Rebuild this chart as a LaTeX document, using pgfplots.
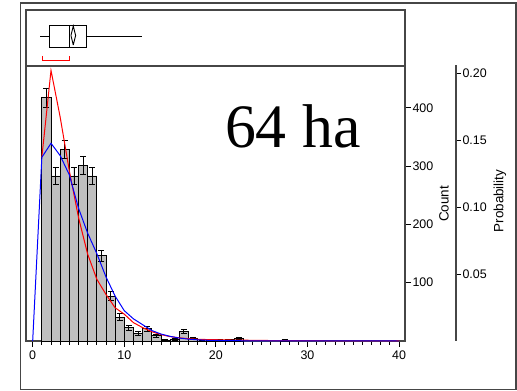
\documentclass[border=0pt]{standalone}
\usepackage{pgfplots}
\pgfplotsset{compat=1.18}
\usepackage{fontspec}
\setmainfont{Liberation Sans}
\newfontfamily\timesf{Liberation Serif}
\definecolor{framec}{RGB}{70,70,70}
\begin{document}
\begin{tikzpicture}
\path (0,0) rectangle (517bp,391bp);
\draw[line width=1.5bp, framec] (20.5bp,1.5bp) rectangle (516bp,388bp);
% top panel with box plot
\begin{axis}[at={(26bp,325bp)}, anchor=south west, scale only axis,
  width=379bp, height=56bp, xmin=-0.73, xmax=40.65, ymin=0, ymax=1,
  xtick=\empty, ytick=\empty, axis line style={line width=1.4bp, framec}, clip=false]
\addplot[black, line width=0.9pt] coordinates {(0.8,0.536) (1.81,0.536)};
\addplot[black, line width=0.9pt] coordinates {(5.82,0.536) (11.9,0.536)};
\addplot[black, line width=0.9pt] coordinates {(1.81,0.327) (5.82,0.327) (5.82,0.732) (1.81,0.732) (1.81,0.327)};
\addplot[black, line width=0.9pt] coordinates {(3.96,0.327) (3.96,0.732)};
\addplot[black, line width=0.9pt] coordinates {(4.43,0.375) (4.69,0.545) (4.43,0.714) (4.18,0.545) (4.43,0.375)};
\addplot[red, line width=0.9pt] coordinates {(1.05,0.179) (1.05,0.107) (4.0,0.107) (4.0,0.179)};
\end{axis}
% main histogram
\begin{axis}[at={(26bp,50bp)}, anchor=south west, scale only axis,
  width=379bp, height=275bp, xmin=-0.73, xmax=40.65, ymin=0, ymax=471.6,
  axis line style={line width=1.4bp, framec},
  xtick={0,10,20,30,40}, minor x tick num=9, xtick pos=bottom,
  ytick={100,200,300,400}, ytick pos=right, yticklabel pos=right,
  tick align=outside, major tick length=6bp, minor tick length=4bp,
  tick style={black, line width=0.8pt},
  /pgf/number format/assume math mode=true,
  ticklabel style={font=\fontsize{12.5}{12.5}\selectfont},
  yticklabel style={xshift=-2bp},
  clip=false]
\addplot[ybar, bar width=1, bar shift=0, fill=gray!50, draw=black, line width=0.8pt,
  error bars/.cd, y dir=both, y explicit,
  error bar style={black, line width=0.8pt},
  error mark options={rotate=90, mark size=3bp, line width=0.8pt}]
  coordinates {
  (1.5,417) +- (0,17)
  (2.5,283) +- (0,14)
  (3.5,329) +- (0,15.5)
  (4.5,283) +- (0,14)
  (5.5,301) +- (0,15)
  (6.5,283) +- (0,14)
  (7.5,146) +- (0,10)
  (8.5,77) +- (0,7.5)
  (9.5,41) +- (0,5.5)
  (10.5,23) +- (0,4)
  (11.5,13) +- (0,3)
  (12.5,21) +- (0,4)
  (13.5,9) +- (0,2.5)
  (14.5,1) +- (0,1)
  (15.5,3) +- (0,1.5)
  (16.5,17) +- (0,3.5)
  (17.5,4) +- (0,1.7)
  (18.5,2) +- (0,1.2)
  (19.5,1) +- (0,1)
  (20.5,1) +- (0,1)
  (21.5,2) +- (0,1.2)
  (22.5,5) +- (0,2)
  (27.5,1) +- (0,1)
  };
\addplot[red, line width=1pt, sharp plot] coordinates {
  (1,315) (2,464) (3,384) (4,292) (5,212) (6,149) (7,106) (8,80) (9,57)
  (10,46) (11,31.5) (12,23) (13,16) (14,11) (15,7.5) (16,5.5) (17,4) (18,3)
  (19,2.5) (20,2.2) (21,1.9) (22,1.6) (23,1.4) (24,1.2) (25,1) (26,0.8)
  (28,0.6) (30,0.5) (35,0.3) (40,0.2)};
\addplot[blue, line width=1pt, sharp plot] coordinates {
  (0,0) (1,315) (2,339) (3,318) (4,285) (5,228) (6,185) (7,150) (8,110)
  (9,77) (10,52) (11,38) (12,28) (13,18) (14,12) (15,8) (16,5) (17,3.2)
  (18,2) (19,1.3) (20,0.9) (22,0.5) (25,0.2) (30,0.05) (40,0)};
\node[font=\timesf\fontsize{62}{62}\selectfont, anchor=base] at (axis cs:28.4,331) {64 ha};
\end{axis}
% probability axis
\begin{axis}[at={(456bp,50bp)}, anchor=south east, scale only axis,
  width=10bp, height=276bp, xmin=0, xmax=1, ymin=0, ymax=0.2063,
  axis x line=none, axis y line*=right,
  axis line style={line width=1.4bp, framec},
  ytick={0.05,0.10,0.15,0.20}, yticklabels={0.05,0.10,0.15,0.20},
  tick align=outside, major tick length=5bp,
  tick style={black, line width=0.8pt},
  /pgf/number format/assume math mode=true,
  ticklabel style={font=\fontsize{12.5}{12.5}\selectfont},
  yticklabel style={xshift=-2bp}]
\addplot[draw=none] coordinates {(0,0) (1,0.2)};
\end{axis}
\node[rotate=90, font=\fontsize{13.5}{13.5}\selectfont] at (444bp,187bp) {Count};
\node[rotate=90, font=\fontsize{13.5}{13.5}\selectfont] at (500bp,190bp) {Probability};
\end{tikzpicture}
\end{document}
